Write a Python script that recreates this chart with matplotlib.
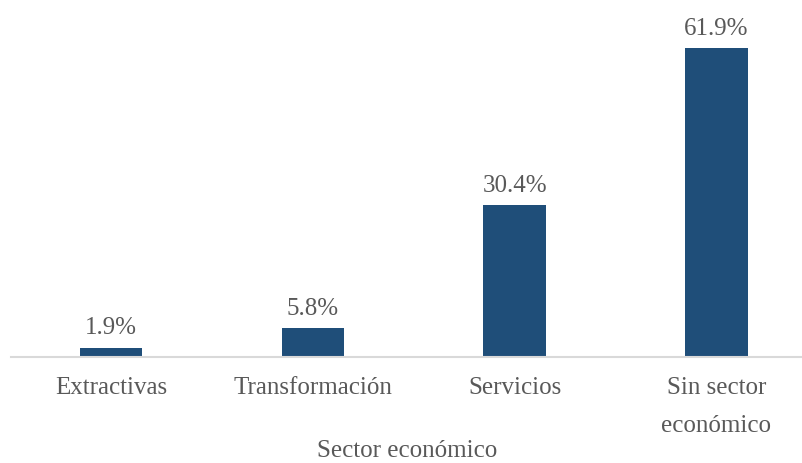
import matplotlib
matplotlib.use("Agg")
import matplotlib.pyplot as plt

categories = ["Extractivas", "Transformación", "Servicios", "Sin sector\neconómico"]
values = [1.9, 5.8, 30.4, 61.9]

plt.rcParams['font.family'] = ['Liberation Serif', 'DejaVu Serif']

fig = plt.figure(figsize=(8.03, 4.64), dpi=100)
ax = fig.add_axes([11 / 803, 106 / 464, 792 / 803, 349 / 464])

x = range(len(categories))
bars = ax.bar(x, values, width=0.31, color="#1F4E79")
for b, v in zip(bars, values):
    ax.annotate(f"{v:.1f}%", (b.get_x() + b.get_width() / 2, v),
                xytext=(0, 6.5), textcoords="offset points",
                ha="center", va="bottom", fontsize=18, color="#595959")

ax.set_xlim(-0.497, 3.43)
ax.set_ylim(0, 70)
ax.set_xticks(list(x))
ax.set_xticklabels(categories, fontsize=18, color="#595959", linespacing=1.9)
ax.tick_params(axis="x", length=0, pad=14)
ax.set_yticks([])
for s in ["top", "right", "left"]:
    ax.spines[s].set_visible(False)
ax.spines["bottom"].set_color("#D9D9D9")
ax.spines["bottom"].set_linewidth(1.5)
ax.set_xlabel("Sector económico", fontsize=18, color="#595959", labelpad=2)

fig.savefig("out.png", dpi=100)
